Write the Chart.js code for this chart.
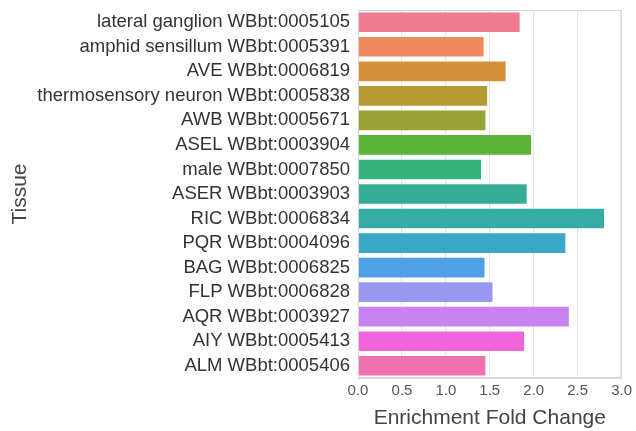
<!DOCTYPE html>
<html>
<head>
<meta charset="utf-8">
<script src="https://cdn.jsdelivr.net/npm/chart.js@4"></script>
<style>
  html, body { margin: 0; padding: 0; background: #fff; }
  #wrap { width: 636px; height: 431px; }
</style>
</head>
<body>
<div id="wrap"><canvas id="myChart"></canvas></div>
<script>
// tissue enrichment
let tissues = [
  'lateral ganglion WBbt:0005105',
  'amphid sensillum WBbt:0005391',
  'AVE WBbt:0006819',
  'thermosensory neuron WBbt:0005838',
  'AWB WBbt:0005671',
  'ASEL WBbt:0003904',
  'male WBbt:0007850',
  'ASER WBbt:0003903',
  'RIC WBbt:0006834',
  'PQR WBbt:0004096',
  'BAG WBbt:0006825',
  'FLP WBbt:0006828',
  'AQR WBbt:0003927',
  'AIY WBbt:0005413',
  'ALM WBbt:0005406'
];
let foldChange = [1.84, 1.43, 1.68, 1.47, 1.45, 1.97, 1.40, 1.92, 2.80, 2.36, 1.44, 1.53, 2.40, 1.89, 1.45];
let xTicks = [0, 0.5, 1, 1.5, 2, 2.5, 3];
let colorHex = ['#f07a8e','#ef8a5c','#d4913a','#b59a34','#98a235','#5db33a','#35b37c','#36ae95',
                '#36aca6','#38a8c6','#4f9fe6','#9898f0','#c883f0','#f065dc','#f171b0'];

let font = 'Liberation Sans, Arial, sans-serif';

let ctx = document.getElementById('myChart').getContext('2d');
let myChart = new Chart(ctx, {
  type: 'bar',
  data: {
    labels: tissues,
    datasets: [{
      data: foldChange,
      backgroundColor: colorHex,
      barPercentage: 0.8,
      categoryPercentage: 1.0
    }]
  },
  options: {
    indexAxis: 'y',
    responsive: true,
    maintainAspectRatio: false,
    animation: false,
    layout: { padding: { top: 10, right: 13, left: 8, bottom: 0 } },
    plugins: {
      legend: { display: false },
      tooltip: { enabled: false }
    },
    scales: {
      x: {
        min: 0,
        max: 3,
        afterBuildTicks: function (axis) {
          axis.ticks = xTicks.map(v => ({ value: v }));
        },
        afterFit: function (scale) { scale.height = 53; },
        ticks: {
          color: '#555',
          font: { family: font, size: 15 },
          padding: 4,
          maxRotation: 0,
          callback: v => Number(v).toFixed(1)
        },
        grid: { color: '#e3e3e3', drawTicks: false, lineWidth: 1 },
        border: { color: '#d6d6d6' },
        title: {
          display: true,
          text: 'Enrichment Fold Change',
          color: '#444',
          font: { family: font, size: 21 },
          padding: { top: 4, bottom: 0 }
        }
      },
      y: {
        afterFit: function (scale) {
          scale.width = 350;
          scale.paddingTop = 0;
          scale.paddingBottom = 0;
        },
        ticks: {
          color: '#333',
          font: { family: font, size: 18.5 },
          padding: 8,
          autoSkip: false
        },
        grid: { display: false, drawTicks: false },
        border: { color: '#d6d6d6' },
        title: {
          display: true,
          text: 'Tissue',
          color: '#444',
          font: { family: font, size: 21 },
          padding: 0
        }
      }
    }
  },
  plugins: [{
    id: 'frame',
    afterDraw: function (chart) {
      let a = chart.chartArea, c = chart.ctx;
      c.save();
      c.strokeStyle = '#d6d6d6';
      c.lineWidth = 1;
      c.strokeRect(a.left + 0.5, a.top + 0.5, a.right - a.left - 1, a.bottom - a.top - 1);
      c.restore();
    }
  }]
});
</script>
</body>
</html>
